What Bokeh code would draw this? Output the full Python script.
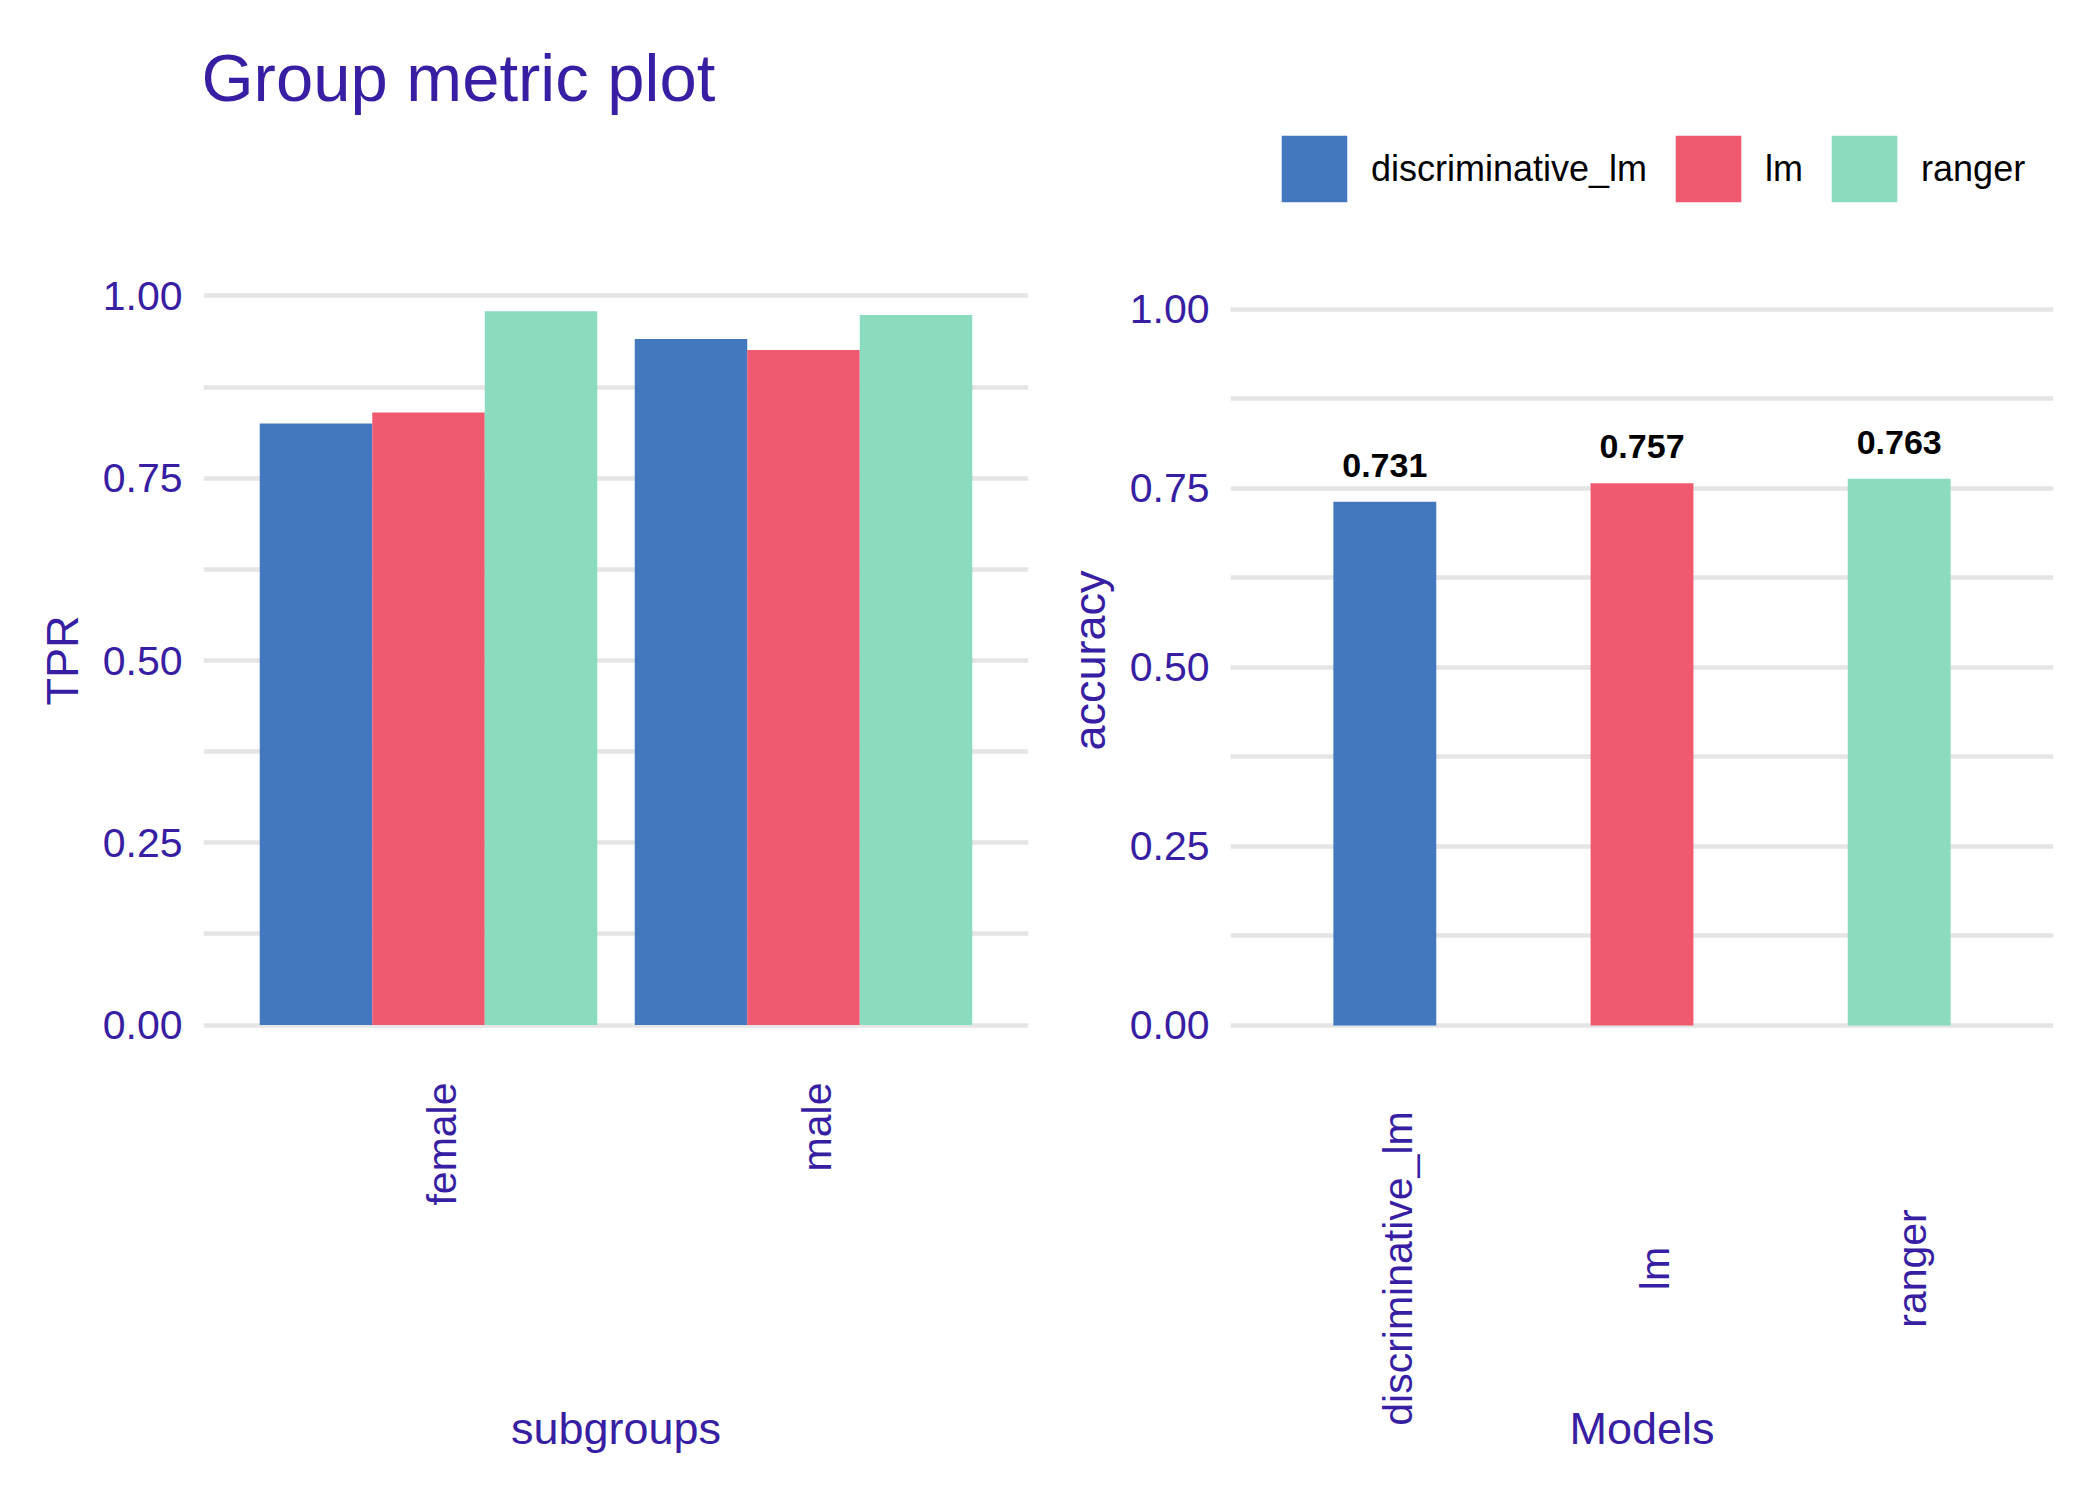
import math
from bokeh.plotting import figure
from bokeh.models import (ColumnDataSource, FactorRange, Range1d, FixedTicker,
                          NumeralTickFormatter, Legend, LegendItem, LabelSet, Label)
from bokeh.transform import dodge
from bokeh.layouts import row, column
from bokeh.core.properties import value
from bokeh.embed import file_html
from bokeh.resources import INLINE

# ---------------- data ----------------
subgroups = ["female", "male"]
models = ["discriminative_lm", "lm", "ranger"]
tpr_discriminative_lm = [0.825, 0.941]
tpr_lm = [0.840, 0.926]
tpr_ranger = [0.979, 0.974]
accuracy = [0.731, 0.757, 0.763]
model_colors = ["#4378bf", "#f05a71", "#8bdcbe"]
y_ticks = [0.0, 0.25, 0.5, 0.75, 1.0]
y_minor_ticks = [0.125, 0.375, 0.625, 0.875]
title_text = "Group metric plot"

TEXT = "#371ea3"
GRID = "#e5e5e5"
FONT = "Liberation Sans"

HEADER_H = 248
TOP = 11
FRAME_H = 802
BOTTOM = 431
L1, F1, R1 = 203, 825, 20
L2, F2, R2 = 182, 823, 30


def base_style(p):
    p.outline_line_color = None
    p.background_fill_color = "white"
    p.border_fill_color = "white"


def style(p, ylabel):
    base_style(p)
    p.xgrid.grid_line_color = None
    ticker = FixedTicker(ticks=y_ticks, minor_ticks=y_minor_ticks)
    p.yaxis.ticker = ticker
    p.ygrid.ticker = ticker
    p.ygrid.grid_line_color = GRID
    p.ygrid.grid_line_width = 4.4
    p.ygrid.minor_grid_line_color = GRID
    p.ygrid.minor_grid_line_width = 4.4
    p.yaxis.formatter = NumeralTickFormatter(format="0.00")
    for ax in p.yaxis:
        ax.axis_line_color = None
        ax.major_tick_line_color = None
        ax.minor_tick_line_color = None
        ax.major_tick_out = 0
        ax.major_tick_in = 0
        ax.minor_tick_out = 0
        ax.minor_tick_in = 0
        ax.axis_label_text_font = FONT
        ax.axis_label_text_font_size = "45px"
        ax.axis_label_text_font_style = "normal"
        ax.axis_label_text_color = TEXT
        ax.major_label_text_font = FONT
        ax.major_label_text_font_size = "41px"
        ax.major_label_text_color = TEXT
    p.yaxis.axis_label = ylabel
    p.yaxis.major_label_standoff = 21
    p.yaxis.axis_label_standoff = 12


def label_strip(x_range, left, frame_w, right, source, field, align, y, axis_title):
    s = figure(
        x_range=x_range, y_range=Range1d(0, BOTTOM),
        x_axis_type=None, y_axis_type=None,
        frame_width=frame_w, frame_height=BOTTOM,
        min_border_left=left, min_border_right=right, min_border_top=0, min_border_bottom=0,
        output_backend="svg", toolbar_location=None,
    )
    base_style(s)
    s.grid.visible = False
    s.add_layout(LabelSet(
        x=field, y=y, text=field, source=source,
        angle=math.pi / 2, text_align=align, text_baseline="middle", x_offset=13,
        text_font=value(FONT), text_font_size="41px", text_color=TEXT,
    ))
    s.add_layout(Label(
        x=frame_w / 2, y=64, x_units="screen", y_units="screen", text=axis_title,
        text_font=FONT, text_font_size="45px", text_color=TEXT,
        text_baseline="alphabetic", text_align="center",
    ))
    return s


src_right = ColumnDataSource(dict(
    model=models,
    accuracy=accuracy,
    color=model_colors,
    label=["%.3f" % a for a in accuracy],
))

# ---------------- header: title + legend ----------------
header = figure(width=L1 + F1 + R1 + L2 + F2 + R2, height=HEADER_H,
                x_range=FactorRange(*models), y_range=Range1d(2, 3),
                x_axis_type=None, y_axis_type=None, min_border=0,
                output_backend="svg", toolbar_location=None)
base_style(header)
header.grid.visible = False
header.add_layout(Label(
    x=L1 - 2, y=171, x_units="screen", y_units="screen", text=title_text,
    text_font=FONT, text_font_size="67px", text_color=TEXT,
    text_baseline="alphabetic", text_align="left",
))
# legend keys come from the accuracy bars (drawn outside this strip's visible range)
key_r = header.vbar(x="model", top="accuracy", width=0.4, bottom=0, source=src_right,
                    fill_color="color", line_color=None)
legend = Legend(
    items=[LegendItem(label=value(m), renderers=[key_r], index=i) for i, m in enumerate(models)],
    orientation="horizontal", location=(1273, 38),
    glyph_width=82, glyph_height=83, label_standoff=16, spacing=20,
    padding=0, margin=0, border_line_color=None, background_fill_alpha=0,
    label_text_font=FONT, label_text_font_size="36px", label_text_color="black",
)
header.add_layout(legend, "center")

# ---------------- left panel: TPR by subgroup ----------------
src_left = ColumnDataSource(dict(
    subgroup=subgroups,
    discriminative_lm=tpr_discriminative_lm,
    lm=tpr_lm,
    ranger=tpr_ranger,
))

p1 = figure(
    x_range=FactorRange(*subgroups, range_padding=0.1, range_padding_units="absolute"),
    y_range=Range1d(-0.05, 1.05),
    x_axis_type=None,
    frame_width=F1, frame_height=FRAME_H,
    min_border_left=L1, min_border_right=R1, min_border_top=TOP, min_border_bottom=0,
    output_backend="svg", toolbar_location=None,
)
offsets = [-0.3, 0.0, 0.3]
for m, off, c in zip(models, offsets, model_colors):
    p1.vbar(x=dodge("subgroup", off, range=p1.x_range), top=m, width=0.3, bottom=0,
            source=src_left, fill_color=c, line_color=None)
style(p1, "TPR")
p1b = label_strip(p1.x_range, L1, F1, R1, src_left, "subgroup", "right", BOTTOM - 21, "subgroups")

# ---------------- right panel: accuracy by model ----------------
p2 = figure(
    x_range=FactorRange(*models, range_padding=0.1, range_padding_units="absolute"),
    y_range=Range1d(-0.0503, 1.0692),
    x_axis_type=None,
    frame_width=F2, frame_height=FRAME_H,
    min_border_left=L2, min_border_right=R2, min_border_top=TOP, min_border_bottom=0,
    output_backend="svg", toolbar_location=None,
)
p2.vbar(x="model", top="accuracy", width=0.4, bottom=0, source=src_right,
        fill_color="color", line_color=None)
style(p2, "accuracy")
p2.add_layout(LabelSet(
    x="model", y="accuracy", text="label", source=src_right, y_offset=25,
    text_align="center", text_baseline="alphabetic",
    text_font=value(FONT), text_font_size="34px", text_font_style="bold", text_color="black",
))
p2b = label_strip(p2.x_range, L2, F2, R2, src_right, "model", "center", 224, "Models")

layout = column(header, row(column(p1, p1b), column(p2, p2b)))
open("out.html", "w").write(file_html(layout, INLINE))
